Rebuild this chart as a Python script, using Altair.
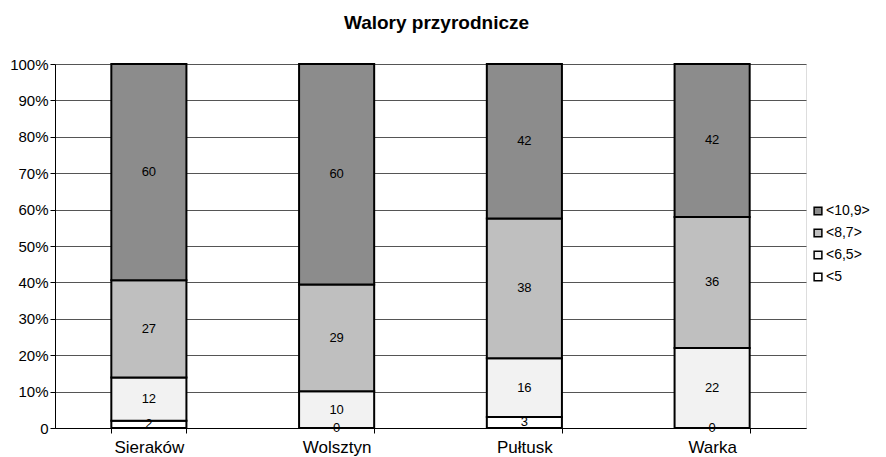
import altair as alt
import pandas as pd

categories = ["Sieraków", "Wolsztyn", "Pułtusk", "Warka"]
series = ["<5", "<6,5>", "<8,7>", "<10,9>"]
values = {
    "<5":     [2, 0, 3, 0],
    "<6,5>":  [12, 10, 16, 22],
    "<8,7>":  [27, 29, 38, 36],
    "<10,9>": [60, 60, 42, 42],
}
colors = ["#ffffff", "#f2f2f2", "#bfbfbf", "#8c8c8c"]
y_ticks = [i / 10 for i in range(11)]

rows = []
for si, s in enumerate(series):
    for ci, c in enumerate(categories):
        rows.append({"cat": c, "series": s, "ord": si, "value": values[s][ci]})
df = pd.DataFrame(rows)

FONT = "Liberation Sans"

base = alt.Chart(df).transform_stack(
    stack="value", groupby=["cat"], sort=[alt.SortField("ord")],
    as_=["y0", "y1"], offset="normalize"
).transform_calculate(mid="(datum.y0 + datum.y1) / 2")

x_enc = alt.X("cat:N", sort=categories, title=None,
              scale=alt.Scale(paddingInner=0.6, paddingOuter=0.3),
              axis=alt.Axis(labelAngle=0, labelFontSize=17, labelFont=FONT,
                            labelColor="black", domainColor="black",
                            tickColor="black", tickBand="extent", tickSize=5,
                            labelPadding=6, grid=False))

y_axis = alt.Axis(values=y_ticks,
                  labelExpr="datum.value == 0 ? '0' : format(datum.value, '.0%')",
                  labelFontSize=15, labelFont=FONT, labelColor="black",
                  domainColor="black", tickColor="black", tickSize=5,
                  labelPadding=2, grid=True, gridColor="#555555",
                  gridWidth=1, labelOverlap=False)
y_scale = alt.Scale(domain=[0, 1])

bars = base.mark_bar(stroke="black", strokeWidth=2).encode(
    x=x_enc,
    y=alt.Y("y0:Q", scale=y_scale, title=None, axis=y_axis),
    y2="y1:Q",
    color=alt.Color("series:N",
                    scale=alt.Scale(domain=series, range=colors),
                    sort=list(reversed(series)),
                    legend=alt.Legend(title=None, orient="none",
                                      legendX=756, legendY=140,
                                      symbolType="square", symbolSize=60,
                                      symbolStrokeColor="black",
                                      symbolStrokeWidth=1.5,
                                      labelFontSize=14, labelFont=FONT,
                                      labelColor="black", rowPadding=8,
                                      labelOffset=1,
                                      values=list(reversed(series)))),
)

labels = base.mark_text(fontSize=13, font=FONT, color="black",
                        baseline="middle").encode(
    x=x_enc,
    y=alt.Y("mid:Q", scale=y_scale, title=None, axis=y_axis),
    text=alt.Text("value:Q"),
)

chart = alt.layer(bars, labels).properties(
    width=751, height=364,
    title=alt.TitleParams("Walory przyrodnicze", fontSize=19, font=FONT,
                          fontWeight="bold", color="black", anchor="middle",
                          offset=24, dx=6),
    autosize=alt.AutoSizeParams(type="none"),
    padding={"left": 47, "top": 56, "right": 64, "bottom": 30},
).configure_view(stroke="#888888", strokeWidth=1).configure(background="white")

chart.save("out.html", embed_options={"renderer": "svg", "actions": False})
